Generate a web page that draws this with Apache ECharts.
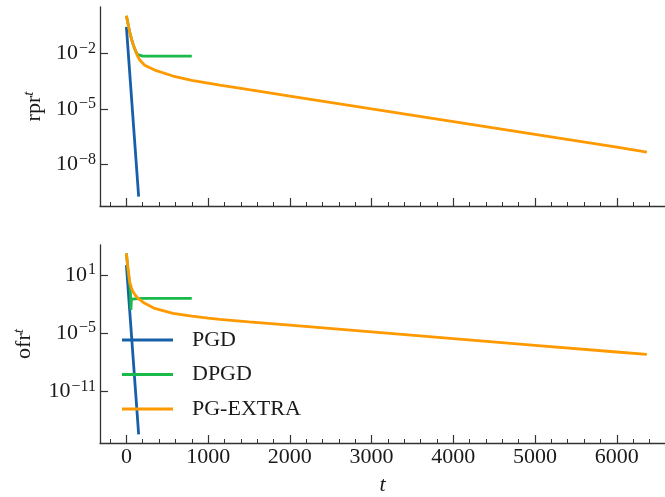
<!DOCTYPE html>
<html>
<head>
<meta charset="utf-8">
<script src="https://cdn.jsdelivr.net/npm/echarts@6/dist/echarts.min.js"></script>
<style>html,body{margin:0;padding:0;background:#fff}#c{width:665px;height:497px}</style>
</head>
<body>
<div id="c"></div>
<script>
// ---- data ----
const seriesNames = ['PGD', 'DPGD', 'PG-EXTRA'];

const tPGD = [0, 50, 100, 150];
const rprPGD = [0.269, 2.4e-4, 2.1e-7, 1.9e-10];
const ofrPGD = [100, 1.6e-4, 2.5e-10, 4e-16];

const tDPGDrpr = [0, 20, 40, 70, 100, 130, 150, 200, 400, 800];
const rprDPGD = [1.07, 0.4, 0.145, 0.045, 0.018, 0.0089, 0.0074, 0.0071, 0.0071, 0.0071];
const tDPGDofr = [0, 20, 40, 50, 55, 62, 75, 200, 500, 800];
const ofrDPGD = [1585, 25, 1.0, 0.126, 0.0025, 0.032, 0.037, 0.037, 0.037, 0.037];

const tEXTRArpr = [0, 20, 40, 60, 80, 100, 130, 163, 224, 346, 570, 800, 1000, 1142, 1500, 2000, 3000, 4000, 5000, 6000, 6368];
const rprEXTRA = [1.07, 0.38, 0.145, 0.063, 0.033, 0.0186, 0.0083, 0.0044, 0.0023, 0.00126, 6.0e-4, 3.5e-4, 2.5e-4, 1.95e-4, 1.1e-4, 5.0e-5, 1.02e-5, 2.1e-6, 4.3e-7, 8.7e-8, 4.7e-8];
const tEXTRAofr = [0, 10, 20, 40, 60, 80, 110, 143, 224, 346, 570, 800, 1000, 1142, 1500, 2000, 3000, 4000, 5000, 6000, 6368];
const ofrEXTRA = [1585, 251, 45.7, 1.9, 0.5, 0.178, 0.079, 0.037, 0.0115, 0.0035, 0.00107, 5.6e-4, 3.5e-4, 2.6e-4, 1.45e-4, 6.6e-5, 1.35e-5, 2.75e-6, 5.6e-7, 1.15e-7, 6.5e-8];

const xMajorTicks = [0, 1000, 2000, 3000, 4000, 5000, 6000];
const xMinorTicks = [-200, 200, 400, 600, 800, 1200, 1400, 1600, 1800, 2200, 2400, 2600, 2800, 3200, 3400, 3600, 3800, 4200, 4400, 4600, 4800, 5200, 5400, 5600, 5800, 6200, 6400];
const yTicksTop = [1e-8, 1e-5, 1e-2];
const yTicksBottom = [1e-11, 1e-5, 10];

// ---- style ----
const FONT = 'Liberation Serif';
const AX = '#333333';
const colors = ['#1760a9', '#19b94a', '#ff9900'];
const X_MIN = -323, X_MAX = 6590;

function zip(t, v) { return t.map((x, i) => [x, v[i]]); }
function expLabel(v) {
  const e = Math.round(Math.log10(v));
  return '{b|10}{s|' + (e < 0 ? '\u2212' : '') + Math.abs(e) + '}';
}
const labelRich = {
  b: { fontSize: 22, fontFamily: FONT, color: '#1a1a1a' },
  s: { fontSize: 16, fontFamily: FONT, color: '#1a1a1a', padding: [0, 0, 10, 1] }
};

function xMajor(grid, showLabel) {
  return {
    type: 'value', gridIndex: grid, position: 'bottom', min: X_MIN, max: X_MAX,
    axisLine: { onZero: false, lineStyle: { color: AX, width: 1.3 } },
    axisTick: { inside: true, length: 8, customValues: xMajorTicks, lineStyle: { color: AX, width: 1.2 } },
    axisLabel: { show: showLabel, customValues: xMajorTicks, margin: 3, fontSize: 22, fontFamily: FONT, color: '#1a1a1a',
      formatter: v => String(v) },
    splitLine: { show: false },
    name: showLabel ? 't' : '', nameLocation: 'middle', nameGap: 31,
    nameTextStyle: { fontSize: 22, fontFamily: FONT, fontStyle: 'italic', color: '#1a1a1a' }
  };
}
function xMinor(grid) {
  return {
    type: 'value', gridIndex: grid, position: 'bottom', min: X_MIN, max: X_MAX,
    axisLine: { show: false, onZero: false },
    axisTick: { inside: true, length: 4, customValues: xMinorTicks, lineStyle: { color: AX, width: 1 } },
    axisLabel: { show: false },
    splitLine: { show: false }
  };
}
function yAxis(grid, lo, hi, ticks, name, gap) {
  return {
    type: 'log', logBase: 10, gridIndex: grid, position: 'left', min: Math.pow(10, lo), max: Math.pow(10, hi),
    axisLine: { onZero: false, lineStyle: { color: AX, width: 1.3 } },
    axisTick: { inside: true, length: 8, customValues: ticks, lineStyle: { color: AX, width: 1.2 } },
    axisLabel: { customValues: ticks, margin: 4, formatter: expLabel, rich: labelRich },
    minorTick: { show: false },
    splitLine: { show: false },
    name: name, nameLocation: 'middle', nameRotate: 90, nameGap: gap,
    nameTextStyle: {
      rich: {
        a: { fontSize: 22, fontFamily: FONT, color: '#1a1a1a' },
        s: { fontSize: 15, fontFamily: FONT, fontStyle: 'italic', color: '#1a1a1a', padding: [0, 0, 10, 0] }
      }
    }
  };
}
function line(name, xi, yi, data, ci) {
  return {
    name: name, type: 'line', xAxisIndex: xi, yAxisIndex: yi, data: data,
    symbol: 'none', showSymbol: false, smooth: false, clip: true,
    lineStyle: { color: colors[ci], width: 2.8 }, itemStyle: { color: colors[ci] }
  };
}

const chart = echarts.init(document.getElementById('c'), null, { renderer: 'canvas' });
chart.setOption({
  animation: false,
  backgroundColor: '#ffffff',
  grid: [
    { left: 100, right: 0, top: 7, height: 199 },
    { left: 100, right: 0, top: 245, height: 198 }
  ],
  xAxis: [xMajor(0, false), xMinor(0), xMajor(1, true), xMinor(1)],
  yAxis: [
    yAxis(0, -10.23, 0.5, yTicksTop, '{a|rpr}{s|t}', 53),
    yAxis(1, -16.29, 4.06, yTicksBottom, '{a|ofr}{s|t}', 63)
  ],
  legend: {
    data: seriesNames, orient: 'vertical', left: 117, top: 324,
    icon: 'rect', itemWidth: 51, itemHeight: 3, itemGap: 12.5,
    textStyle: { fontSize: 22, lineHeight: 22, fontFamily: FONT, color: '#1a1a1a', padding: [0, 0, 0, 14] }
  },
  series: [
    line('PGD', 0, 0, zip(tPGD, rprPGD), 0),
    line('DPGD', 0, 0, zip(tDPGDrpr, rprDPGD), 1),
    line('PG-EXTRA', 0, 0, zip(tEXTRArpr, rprEXTRA), 2),
    line('PGD', 2, 1, zip(tPGD, ofrPGD), 0),
    line('DPGD', 2, 1, zip(tDPGDofr, ofrDPGD), 1),
    line('PG-EXTRA', 2, 1, zip(tEXTRAofr, ofrEXTRA), 2)
  ]
});
</script>
</body>
</html>
